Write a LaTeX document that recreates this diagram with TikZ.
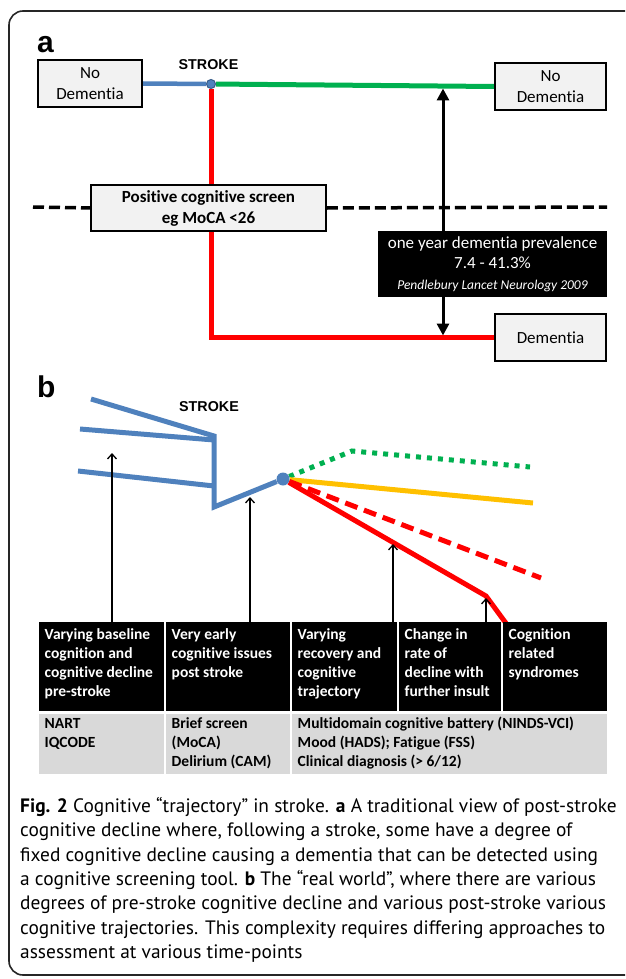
\documentclass[tikz,border=0pt]{standalone}
\usepackage{fontspec}
\setmainfont{Carlito}[Ligatures={NoCommon,NoContextual,NoRare}]
\newfontfamily\arialfont{Liberation Sans}
\newfontfamily\capfont{PT Sans}
\usetikzlibrary{arrows.meta,backgrounds}

\definecolor{strokeblue}{HTML}{4F81BD}
\definecolor{dotedge}{HTML}{385D8A}
\definecolor{okgreen}{HTML}{00B050}
\definecolor{gold}{HTML}{FFC000}
\definecolor{boxgray}{HTML}{F2F2F2}
\definecolor{rowgray}{HTML}{D9D9D9}

\newcommand{\hcell}[2]{\parbox[c][89pt][t]{#1pt}{\raggedright\vspace{4.3pt}\strut#2}}
\newcommand{\rcell}[2]{\parbox[c][60pt][t]{#1pt}{\raggedright\vspace{1.3pt}\strut#2}}

\begin{document}
\begin{tikzpicture}[x=1pt,y=-1pt,
    box/.style={draw=black,line width=1.8,fill=boxgray,align=center,inner sep=0,font=\fontsize{17}{21}\selectfont},
    panel/.style={anchor=base west,inner sep=0,font=\arialfont\bfseries\fontsize{30}{30}\selectfont},
    strk/.style={anchor=base,inner sep=0,font=\arialfont\bfseries\fontsize{14.3}{14}\selectfont},
    traj/.style={line width=5},
    marker/.style={-{Straight Barb[length=5pt,width=9pt]},line width=1.3},
    head/.style={fill=black,text=white,anchor=north west,inner xsep=5.5,inner ysep=0,font=\bfseries\fontsize{15.5}{19}\selectfont},
    tool/.style={fill=rowgray,anchor=north west,inner xsep=5.5,inner ysep=0,font=\bfseries\fontsize{15.5}{19}\selectfont}]
  \clip (0,0) rectangle (625,979);
  \draw[line width=1.6,black!85,rounded corners=14] (660,11) -- (9,11) -- (9,975) -- (660,975);

  % panel a
  \node[panel] (labA) at (37,53) {a};
  \node[strk] (strkA) at (208.5,70) {STROKE};
  \node[box,minimum width=104,minimum height=47] (nodemA) at (90,83.5) {No\\Dementia};
  \node[box,minimum width=111,minimum height=47] (nodemB) at (550.5,86.5) {No\\Dementia};
  \node[box,minimum width=111,minimum height=47] (dem) at (550.5,337.5) {Dementia};
  \node[box,minimum width=235,minimum height=46,font=\bfseries\fontsize{17}{21}\selectfont] (screen) at (208.5,208) {Positive cognitive screen\\eg MoCA <26};
  \node[fill=black,text=white,minimum width=229,minimum height=66,inner sep=0,align=center,font=\fontsize{17}{20.5}\selectfont] (prev) at (492.5,264)
    {one year dementia prevalence\\7.4 - 41.3\%\\{\itshape\fontsize{13.5}{20.5}\selectfont Pendlebury Lancet Neurology 2009}};
  \node[circle,fill=strokeblue,draw=dotedge,line width=1,minimum size=9,inner sep=0] (strokeA) at (211,84) {};
  \coordinate (cutL) at (33,207);
  \coordinate (cutR) at (607,207);
  \coordinate (up) at (443,88.5);
  \coordinate (down) at (443,335.5);

  \begin{scope}[on background layer]
    \draw[strokeblue,line width=4.5] (nodemA.east) -- (strokeA);
    \draw[okgreen,traj] (strokeA) -- (nodemB.west);
    \draw[red,traj] (strokeA) |- (dem.west);
    \draw[line width=3.5,dash pattern=on 11pt off 5pt] (cutL) -- (screen.west);
    \draw[line width=3.5,dash pattern=on 11pt off 5pt] (screen.east) -- (cutR);
    \draw[{Triangle[length=12pt,width=12pt]}-{Triangle[length=12pt,width=12pt]},line width=3] (up) -- (down);
  \end{scope}

  % panel b
  \node[panel] (labB) at (37,397) {b};
  \node[strk] (strkB) at (209,411) {STROKE};
  \node[circle,fill=strokeblue,minimum size=13,inner sep=0] (strokeB) at (283,479) {};

  \node[head] (h1) at (39,622) {\hcell{114}{Varying baseline\\cognition and\\cognitive decline\\pre-stroke}};
  \node[head] (h2) at (166,622) {\hcell{113}{Very early\\cognitive issues\\post stroke}};
  \node[head] (h3) at (292,622) {\hcell{94}{Varying\\recovery and\\cognitive\\trajectory}};
  \node[head] (h4) at (399,622) {\hcell{91}{Change in\\rate of\\decline with\\further insult}};
  \node[head] (h5) at (503,622) {\hcell{93}{Cognition\\related\\syndromes}};
  \node[tool] (r1) at (39,714) {\rcell{114}{NART\\IQCODE}};
  \node[tool] (r2) at (166,714) {\rcell{113}{Brief screen\\(MoCA)\\Delirium (CAM)}};
  \node[tool] (r3) at (292,714) {\rcell{304}{Multidomain cognitive battery (NINDS-VCI)\\Mood (HADS); Fatigue (FSS)\\Clinical diagnosis (> 6/12)}};

  \coordinate (t1) at (112,453);
  \coordinate (t2) at (250,497);
  \coordinate (t3) at (393,544);
  \coordinate (t4) at (486,598);

  \begin{scope}[on background layer]
    \draw[strokeblue,traj] (91,399) -- (214,436) -- (214,507) -- (strokeB);
    \draw[strokeblue,traj] (80,429) -- (214,440);
    \draw[strokeblue,traj] (78,471) -- (214,486);
    \draw[okgreen,traj,dash pattern=on 5pt off 6pt] (strokeB) -- (352,451) -- (530,467);
    \draw[gold,traj] (strokeB) -- (533,503);
    \draw[red,traj,dash pattern=on 13pt off 7pt] (strokeB) -- (541,578);
    \draw[red,traj] (strokeB) -- (486,596) -- (508,626);
  \end{scope}
  \draw[marker] (t1 |- h1.north) -- (t1);
  \draw[marker] (t2 |- h2.north) -- (t2);
  \draw[marker] (t3 |- h3.north) -- (t3);
  \draw[marker] (t4 |- h4.north) -- (t4);

  \node[anchor=north west,align=left,inner sep=0,font=\capfont\fontsize{19.4}{24.4}\selectfont] (caption) at (20,797)
    {\textbf{Fig. 2} Cognitive “trajectory” in stroke. \textbf{a} A traditional view of post-stroke\\
     cognitive decline where, following a stroke, some have a degree of\\
     fixed cognitive decline causing a dementia that can be detected using\\
     a cognitive screening tool. \textbf{b} The “real world”, where there are various\\
     degrees of pre-stroke cognitive decline and various post-stroke various\\
     cognitive trajectories. This complexity requires differing approaches to\\
     assessment at various time-points};
\end{tikzpicture}
\end{document}
